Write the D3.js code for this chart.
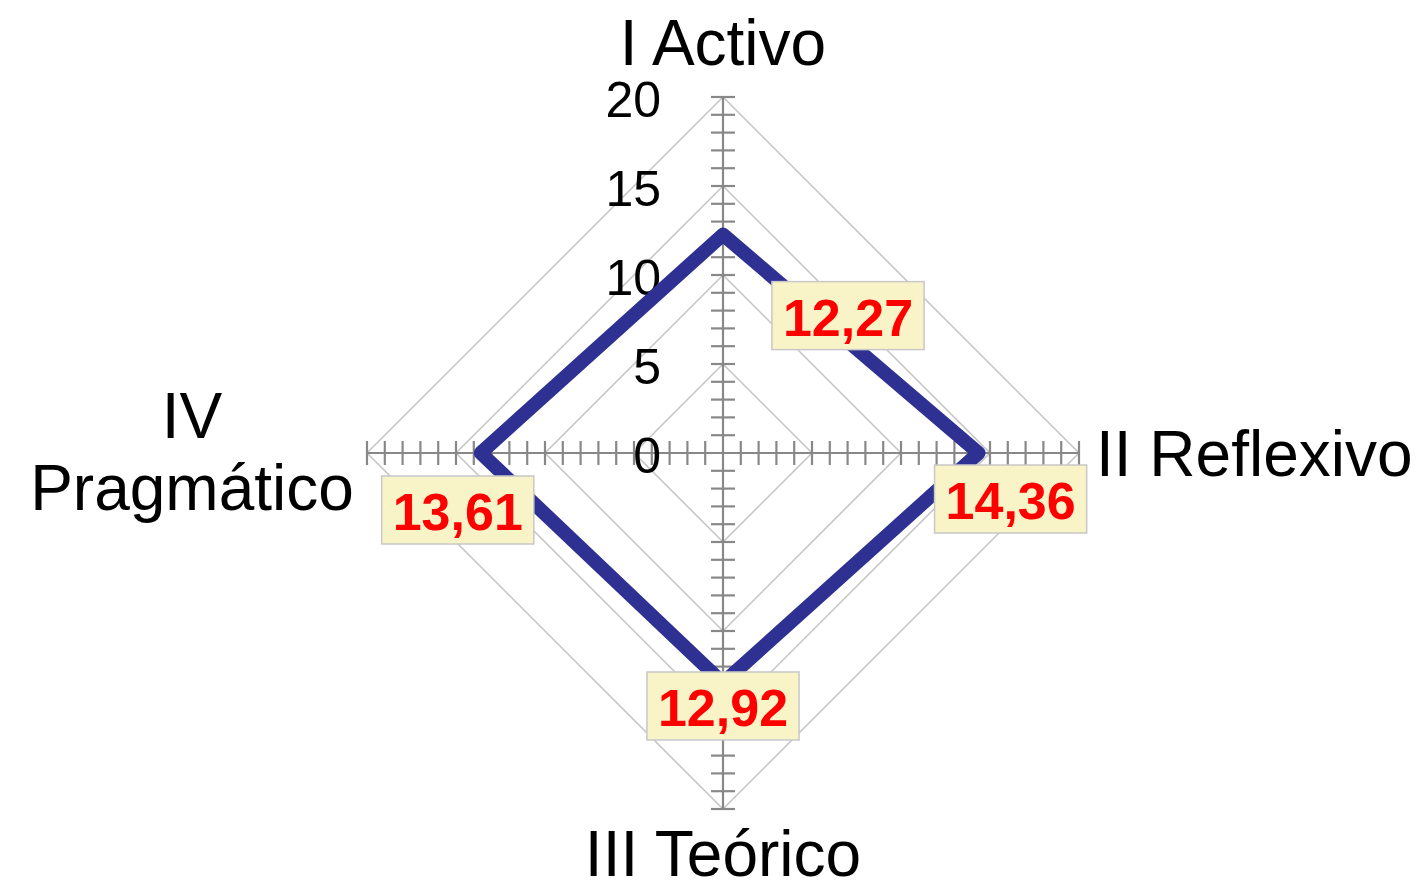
<!DOCTYPE html>
<html>
<head>
<meta charset="utf-8">
<script src="https://cdn.jsdelivr.net/npm/d3@7"></script>
<style>
  body { margin: 0; background: #fff; }
  svg { display: block; font-family: "Liberation Sans", Arial, sans-serif; }
</style>
</head>
<body>
<svg id="chart" width="1416" height="890"></svg>
<script>
const axisNames = ["I Activo", "II Reflexivo", "III Teórico", "IV|Pragmático"];
const values = [12.27, 14.36, 12.92, 13.61];
const tickValues = [0, 5, 10, 15, 20];

const width = 1416, height = 890;
const cx = 723, cy = 453, R = 356;

const svg = d3.select("#chart");
const g = svg.append("g").attr("transform", `translate(${cx},${cy})`);

const r = d3.scaleLinear().domain([0, 20]).range([0, R]);
const angle = i => i * Math.PI / 2;  // clockwise from top
const comma = d3.formatLocale({decimal: ",", thousands: ".", grouping: [3], currency: ["", ""]}).format(".2f");

const pt = (i, v) => [Math.sin(angle(i)) * r(v), -Math.cos(angle(i)) * r(v)];

// grid diamonds
const grid = d3.lineRadial()
    .angle((d, i) => angle(i))
    .radius(d => r(d))
    .curve(d3.curveLinearClosed);

g.append("g")
  .selectAll("path")
  .data(tickValues.filter(t => t > 0))
  .join("path")
  .attr("d", t => grid(axisNames.map(() => t)))
  .attr("fill", "none")
  .attr("stroke", "#c4c4c4")
  .attr("stroke-width", 1.5);

// axes with minor ticks every unit
const axisG = g.append("g").attr("stroke", "#888888");
axisNames.forEach((name, i) => {
  const [x2, y2] = pt(i, 20);
  axisG.append("line")
    .attr("x1", 0).attr("y1", 0).attr("x2", x2).attr("y2", y2)
    .attr("stroke-width", 2.2);
  const horiz = i % 2 === 1;
  axisG.selectAll(null)
    .data(d3.range(1, 21))
    .join("line")
    .attr("x1", d => pt(i, d)[0] - (horiz ? 0 : 12))
    .attr("x2", d => pt(i, d)[0] + (horiz ? 0 : 12))
    .attr("y1", d => pt(i, d)[1] - (horiz ? 12 : 0))
    .attr("y2", d => pt(i, d)[1] + (horiz ? 12 : 0))
    .attr("stroke-width", 2.2);
});

// tick labels
g.append("g")
  .selectAll("text")
  .data(tickValues)
  .join("text")
  .attr("x", -62)
  .attr("y", d => -r(d) + 3)
  .attr("text-anchor", "end")
  .attr("dominant-baseline", "central")
  .attr("font-size", 50)
  .attr("fill", "#000")
  .text(d => d);

// data polygon
const line = d3.lineRadial()
    .angle((d, i) => angle(i))
    .radius(d => r(d))
    .curve(d3.curveLinearClosed);

g.append("path")
  .datum(values)
  .attr("d", line)
  .attr("fill", "none")
  .attr("stroke", "#2e3192")
  .attr("stroke-width", 14)
  .attr("stroke-linejoin", "round");

// value labels
const labelOffsets = [[125, 81], [32, 46], [0, 23], [-23, 57]];
values.forEach((v, i) => {
  const [x, y] = pt(i, v);
  const lg = g.append("g").attr("transform", `translate(${x + labelOffsets[i][0]},${y + labelOffsets[i][1]})`);
  const rect = lg.append("rect");
  const t = lg.append("text")
    .attr("text-anchor", "middle")
    .attr("dominant-baseline", "central")
    .attr("y", 2)
    .attr("font-size", 52)
    .attr("font-weight", "bold")
    .attr("fill", "#ff0000")
    .text(comma(v));
  const w = t.node().getComputedTextLength() + 22;
  const h = 68;
  rect.attr("x", -w / 2).attr("y", -h / 2).attr("width", w).attr("height", h)
    .attr("fill", "#f9f3c8")
    .attr("stroke", "#c8c8c8")
    .attr("stroke-width", 1.5);
});

// axis names
const nameG = g.append("g").attr("font-size", 64).attr("fill", "#000");
nameG.append("text").attr("x", 0).attr("y", -R - 32).attr("text-anchor", "middle").text(axisNames[0]);
nameG.append("text").attr("x", R + 17).attr("y", 23).attr("text-anchor", "start").text(axisNames[1]);
nameG.append("text").attr("x", 0).attr("y", R + 67).attr("text-anchor", "middle").text(axisNames[2]);
const p4 = nameG.append("text").attr("text-anchor", "middle");
axisNames[3].split("|").forEach((s, k) => {
  p4.append("tspan").attr("x", -R - 175).attr("y", k === 0 ? -15 : 57).text(s);
});
</script>
</body>
</html>
